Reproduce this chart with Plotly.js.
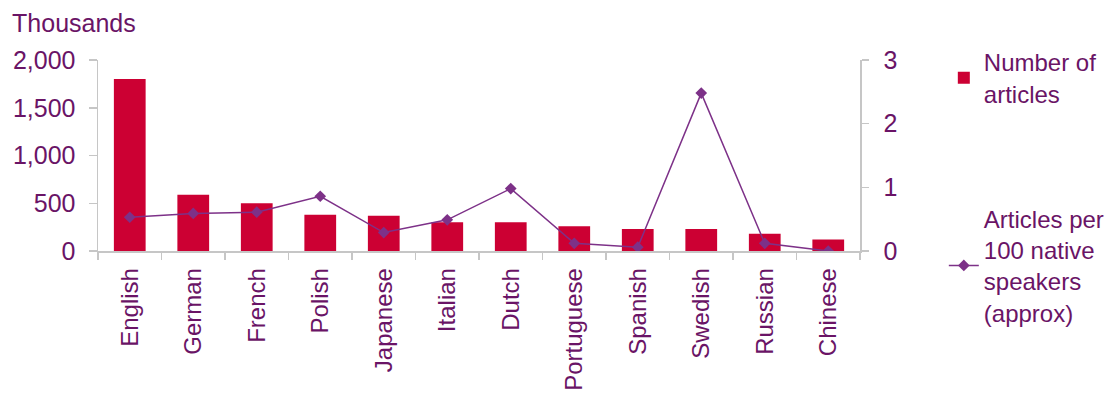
<!DOCTYPE html>
<html>
<head>
<meta charset="utf-8">
<script src="https://cdn.plot.ly/plotly-3.0.1.min.js"></script>
<style>
  html, body { margin: 0; padding: 0; background: #ffffff; }
  #chart { width: 1116px; height: 396px; }
</style>
</head>
<body>
<div id="chart"></div>
<script>
const languages = ["English", "German", "French", "Polish", "Japanese", "Italian", "Dutch", "Portuguese", "Spanish", "Swedish", "Russian", "Chinese"];
const articlesThousands = [1800, 590, 500, 380, 370, 300, 300, 260, 230, 230, 180, 120];
const articlesPer100Speakers = [0.53, 0.59, 0.61, 0.86, 0.29, 0.49, 0.98, 0.12, 0.06, 2.48, 0.12, 0.0];
const leftTicks = [0, 500, 1000, 1500, 2000];
const rightTicks = [0, 1, 2, 3];

const textColor = "#6a1466";
const axisColor = "#c6c6c6";
const fontFamily = "Liberation Sans, Arial, sans-serif";

const traces = [
  {
    type: "bar",
    name: "Number of<br>articles",
    x: languages,
    y: articlesThousands,
    marker: { color: "#cc0033" },
    legend: "legend",
    yaxis: "y"
  },
  {
    type: "scatter",
    mode: "lines+markers",
    name: "Articles per<br>100 native<br>speakers<br>(approx)",
    x: languages,
    y: articlesPer100Speakers,
    line: { color: "#7d3188", width: 1.5 },
    marker: { symbol: "diamond", size: 9, color: "#7d3188" },
    legend: "legend2",
    yaxis: "y2"
  }
];

const layout = {
  width: 1116,
  height: 396,
  margin: { l: 98, r: 256, t: 60, b: 145, autoexpand: false },
  paper_bgcolor: "#ffffff",
  plot_bgcolor: "#ffffff",
  font: { family: fontFamily, size: 24, color: textColor },
  title: {
    text: "Thousands",
    x: 0.0108, xanchor: "left",
    y: 0.942, yanchor: "middle",
    font: { family: fontFamily, size: 25, color: textColor }
  },
  bargap: 0.5,
  xaxis: {
    type: "category",
    range: [-0.5, 11.5],
    showline: true, linecolor: axisColor, linewidth: 1.5,
    ticks: "outside", tickson: "boundaries", ticklen: 7, tickcolor: axisColor, tickwidth: 1.5,
    tickangle: -90,
    ticklabelstandoff: 6,
    tickfont: { family: fontFamily, size: 24, color: textColor },
    showgrid: false, zeroline: false
  },
  yaxis: {
    range: [0, 2000],
    tickvals: leftTicks,
    ticktext: leftTicks.map(v => v.toLocaleString("en-US")),
    showline: true, linecolor: axisColor, linewidth: 1.5,
    ticks: "outside", ticklen: 8, tickcolor: axisColor, tickwidth: 1.5,
    ticklabelstandoff: 8,
    tickfont: { family: fontFamily, size: 25, color: textColor },
    showgrid: false, zeroline: false
  },
  yaxis2: {
    overlaying: "y", side: "right",
    range: [0, 3],
    tickvals: rightTicks,
    showline: true, linecolor: axisColor, linewidth: 1.5,
    ticks: "outside", ticklen: 7, tickcolor: axisColor, tickwidth: 1.5,
    ticklabelstandoff: 10,
    tickfont: { family: fontFamily, size: 25, color: textColor },
    showgrid: false, zeroline: false
  },
  showlegend: true,
  legend: {
    x: 1.11, xanchor: "left", y: 1.105, yanchor: "top",
    bgcolor: "rgba(0,0,0,0)",
    font: { family: fontFamily, size: 24, color: textColor }
  },
  legend2: {
    x: 1.11, xanchor: "left", y: 0.285, yanchor: "top",
    bgcolor: "rgba(0,0,0,0)",
    font: { family: fontFamily, size: 24, color: textColor }
  }
};

Plotly.newPlot("chart", traces, layout, { staticPlot: true, displayModeBar: false });
</script>
</body>
</html>
